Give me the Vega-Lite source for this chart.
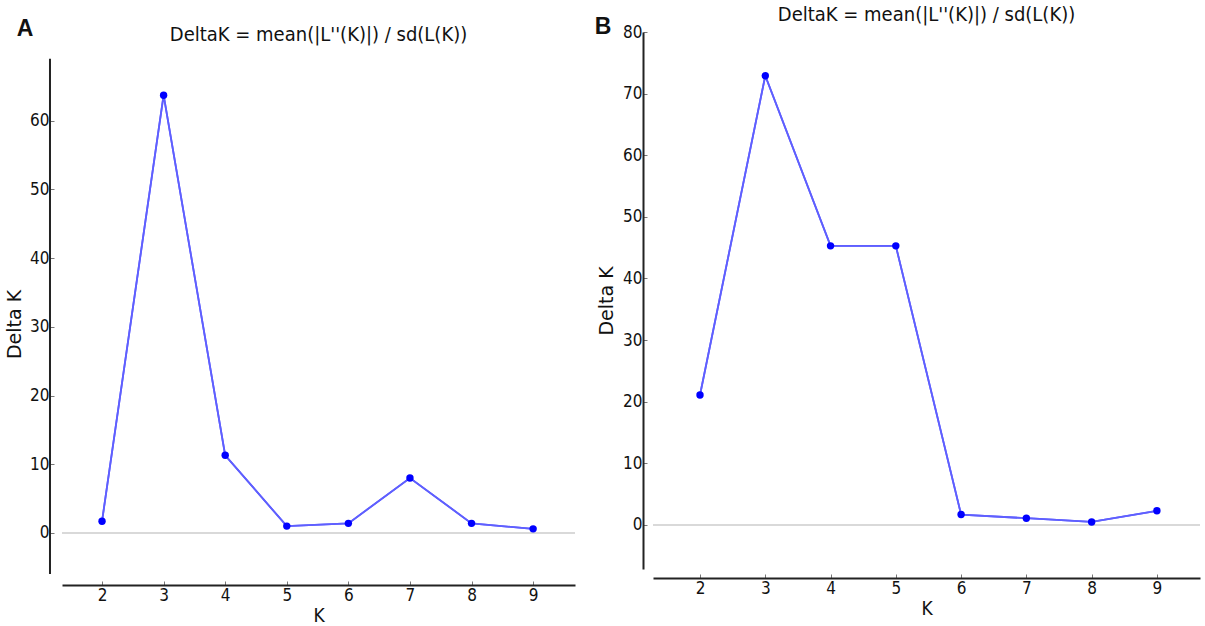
{
  "$schema": "https://vega.github.io/schema/vega-lite/v6.json",
  "padding": {"left": 5, "top": 5, "right": 5, "bottom": 0},
  "background": "white",
  "spacing": 18,
  "datasets": {
    "a": [
      {"K": 2, "DeltaK": 1.7}, {"K": 3, "DeltaK": 63.7}, {"K": 4, "DeltaK": 11.3}, {"K": 5, "DeltaK": 1.0},
      {"K": 6, "DeltaK": 1.4}, {"K": 7, "DeltaK": 8.0}, {"K": 8, "DeltaK": 1.4}, {"K": 9, "DeltaK": 0.6}
    ],
    "b": [
      {"K": 2, "DeltaK": 21.1}, {"K": 3, "DeltaK": 72.9}, {"K": 4, "DeltaK": 45.3}, {"K": 5, "DeltaK": 45.3},
      {"K": 6, "DeltaK": 1.7}, {"K": 7, "DeltaK": 1.1}, {"K": 8, "DeltaK": 0.5}, {"K": 9, "DeltaK": 2.3}
    ],
    "one": [{}]
  },
  "config": {
    "view": {"stroke": null},
    "axis": {
      "grid": false,
      "labelFont": "Liberation Sans Narrow, DejaVu Sans Condensed",
      "labelFontSize": 17,
      "labelColor": "#111111",
      "titleColor": "#111111",
      "domainColor": "#222222",
      "domainWidth": 2,
      "tickColor": "#777777",
      "tickSize": -4,
      "tickWidth": 1
    }
  },
  "hconcat": [
    {
      "width": 513,
      "height": 542,
      "title": {"text": "DeltaK = mean(|L''(K)|) / sd(L(K))", "font": "DejaVu Sans Condensed", "fontSize": 20, "fontWeight": "normal", "color": "#111111", "offset": -27},
      "data": {"name": "a"},
      "layer": [
        {
          "mark": {"type": "line", "color": "#5f5fff", "strokeWidth": 1.8},
          "encoding": {
            "x": {
              "field": "K", "type": "quantitative",
              "scale": {"domain": [1.35, 9.68], "nice": false, "zero": false},
              "axis": {"values": [2, 3, 4, 5, 6, 7, 8, 9], "format": "d", "offset": 11, "title": "K", "titleFont": "DejaVu Sans Condensed", "titleFontSize": 19, "titleFontWeight": "normal", "titlePadding": 3, "labelPadding": 6}
            },
            "y": {
              "field": "DeltaK", "type": "quantitative",
              "scale": {"domain": [-5.97, 72.9], "nice": false, "zero": false},
              "axis": {"values": [0, 10, 20, 30, 40, 50, 60], "format": "d", "offset": 12, "domain": false, "title": "Delta K", "titleFont": "DejaVu Sans", "titleFontSize": 19, "titleFontWeight": "normal", "titlePadding": 5, "labelPadding": 5, "titleY": 292}
            }
          }
        },
        {
          "data": {"name": "one"},
          "mark": {"type": "rule", "color": "#cccccc", "strokeWidth": 1.5},
          "encoding": {"y": {"datum": 0, "type": "quantitative"}}
        },
        {
          "data": {"name": "one"},
          "mark": {"type": "rule", "color": "#222222", "strokeWidth": 2},
          "encoding": {
            "x": {"datum": 1.155, "type": "quantitative"},
            "y": {"datum": -5.97, "type": "quantitative"},
            "y2": {"datum": 69}
          }
        },
        {
          "mark": {"type": "line", "color": "#5f5fff", "strokeWidth": 1.8},
          "encoding": {
            "x": {"field": "K", "type": "quantitative"},
            "y": {"field": "DeltaK", "type": "quantitative"}
          }
        },
        {
          "mark": {"type": "point", "filled": true, "color": "#0000ff", "opacity": 1, "size": 55},
          "encoding": {
            "x": {"field": "K", "type": "quantitative"},
            "y": {"field": "DeltaK", "type": "quantitative"}
          }
        },
        {
          "data": {"name": "one"},
          "mark": {"type": "text", "text": "A", "font": "Liberation Sans", "fontSize": 23, "fontWeight": "bold", "color": "#111111", "baseline": "middle", "align": "center"},
          "encoding": {
            "x": {"datum": 0.75, "type": "quantitative"},
            "y": {"datum": 73.3, "type": "quantitative"}
          }
        }
      ]
    },
    {
      "width": 547,
      "height": 537,
      "title": {"text": "DeltaK = mean(|L''(K)|) / sd(L(K))", "font": "DejaVu Sans Condensed", "fontSize": 20, "fontWeight": "normal", "color": "#111111", "offset": -9},
      "data": {"name": "b"},
      "layer": [
        {
          "mark": {"type": "line", "color": "#5f5fff", "strokeWidth": 1.8},
          "encoding": {
            "x": {
              "field": "K", "type": "quantitative",
              "scale": {"domain": [1.28, 9.66], "nice": false, "zero": false},
              "axis": {"values": [2, 3, 4, 5, 6, 7, 8, 9], "format": "d", "offset": 9, "title": "K", "titleFont": "DejaVu Sans Condensed", "titleFontSize": 19, "titleFontWeight": "normal", "titlePadding": 3, "labelPadding": 6}
            },
            "y": {
              "field": "DeltaK", "type": "quantitative",
              "scale": {"domain": [-7.14, 80], "nice": false, "zero": false},
              "axis": {"values": [0, 10, 20, 30, 40, 50, 60, 70, 80], "format": "d", "offset": 10, "title": "Delta K", "titleFont": "DejaVu Sans", "titleFontSize": 19, "titleFontWeight": "normal", "titlePadding": 6, "labelPadding": 5}
            }
          }
        },
        {
          "data": {"name": "one"},
          "mark": {"type": "rule", "color": "#cccccc", "strokeWidth": 1.5},
          "encoding": {"y": {"datum": 0, "type": "quantitative"}}
        },
        {
          "mark": {"type": "line", "color": "#5f5fff", "strokeWidth": 1.8},
          "encoding": {
            "x": {"field": "K", "type": "quantitative"},
            "y": {"field": "DeltaK", "type": "quantitative"}
          }
        },
        {
          "mark": {"type": "point", "filled": true, "color": "#0000ff", "opacity": 1, "size": 55},
          "encoding": {
            "x": {"field": "K", "type": "quantitative"},
            "y": {"field": "DeltaK", "type": "quantitative"}
          }
        },
        {
          "data": {"name": "one"},
          "mark": {"type": "text", "text": "B", "font": "Liberation Sans", "fontSize": 23, "fontWeight": "bold", "color": "#111111", "baseline": "middle", "align": "center"},
          "encoding": {
            "x": {"datum": 0.514, "type": "quantitative"},
            "y": {"datum": 80.8, "type": "quantitative"}
          }
        }
      ]
    }
  ]
}
